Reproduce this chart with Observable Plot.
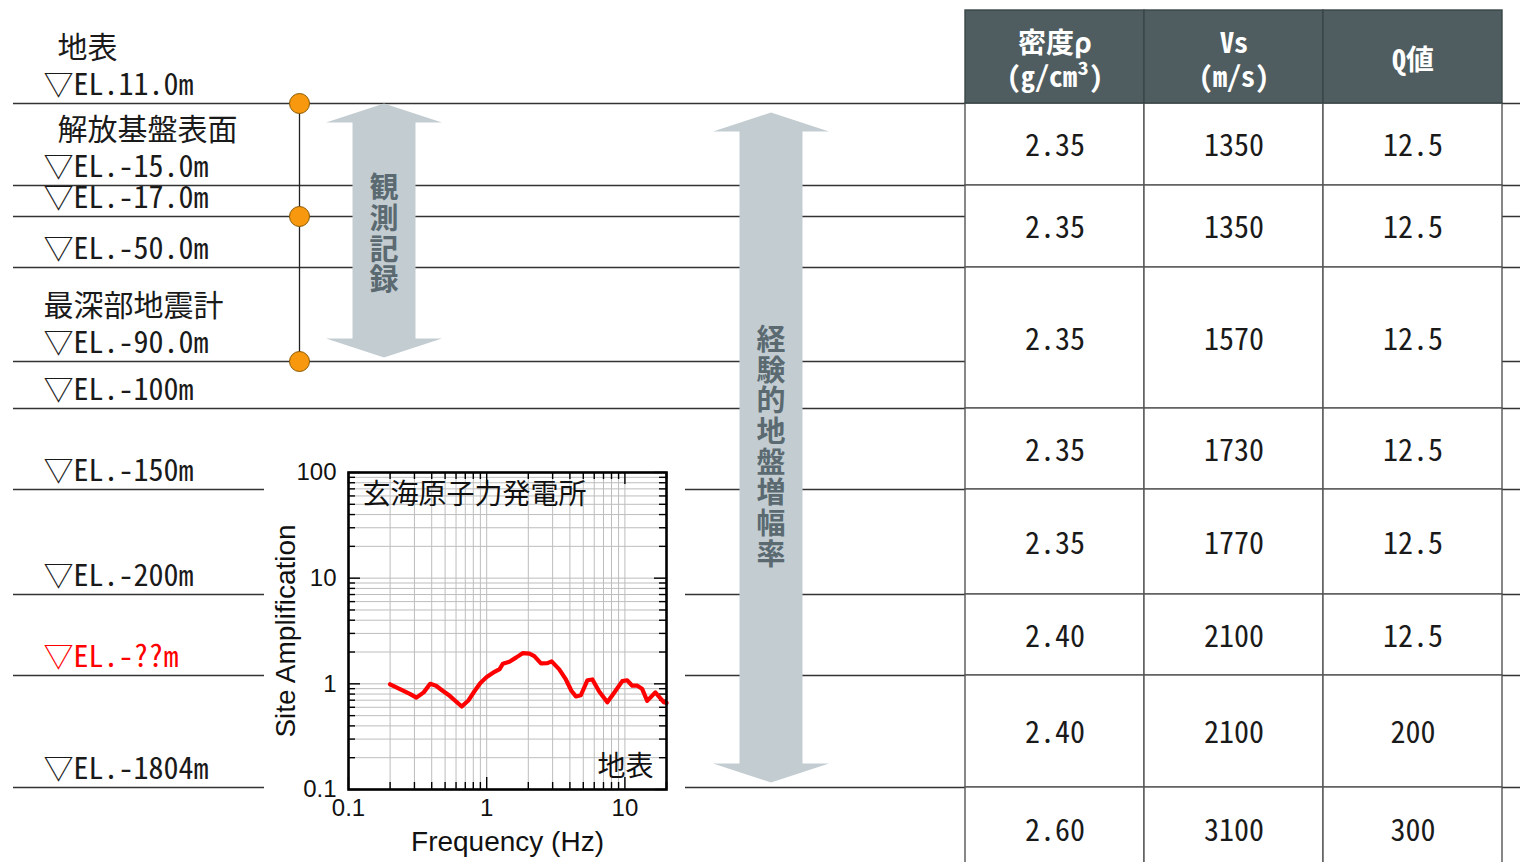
<!DOCTYPE html>
<html><head><meta charset="utf-8">
<script src="https://cdn.jsdelivr.net/npm/d3@7"></script>
<script src="https://cdn.jsdelivr.net/npm/@observablehq/plot@0.6"></script>
<style>
html,body{margin:0;padding:0;background:#fff;}
#wrap{position:relative;width:1520px;height:862px;overflow:hidden;background:#fff;}
#main{position:absolute;left:0;top:0;}
#inset{position:absolute;left:264px;top:455px;}
#main text{font-feature-settings:"hwid" 1;}
</style></head>
<body><div id="wrap"><div id="main"></div><div id="inset"></div></div>
<script>
// ---------------- DATA ----------------
const boundaryLabels = ["▽EL.11.0m","▽EL.-15.0m","▽EL.-17.0m","▽EL.-50.0m","▽EL.-90.0m","▽EL.-100m","▽EL.-150m","▽EL.-200m","▽EL.-??m","▽EL.-1804m"];
const siteNames = ["地表","解放基盤表面","最深部地震計"];
const siteNameBoundary = [0, 1, 4];
const seismometerBoundary = [0, 2, 4];

const tableHeaders = ["密度ρ\n(g/cm³)", "Vs\n(m/s)", "Q値"];
const layerTop    = [0, 1, 3, 5, 6, 7, 8, 9];
const layerBottom = [1, 3, 5, 6, 7, 8, 9, 10];
const density = [2.35, 2.35, 2.35, 2.35, 2.35, 2.40, 2.40, 2.60];
const vs      = [1350, 1350, 1570, 1730, 1770, 2100, 2100, 3100];
const qValue  = [12.5, 12.5, 12.5, 12.5, 12.5, 12.5, 200, 300];

const arrowLabels = ["観測記録", "経験的地盤増幅率"];
const arrowFrom = [0, 0];
const arrowTo   = [4, 9];

const insetTitle = "玄海原子力発電所";
const insetSite = "地表";
const freq = [0.20,0.24,0.28,0.31,0.35,0.39,0.43,0.48,0.54,0.60,0.66,0.74,0.82,0.90,1.00,1.14,1.24,1.31,1.46,1.64,1.82,2.04,2.21,2.47,2.75,2.95,3.35,3.74,4.10,4.42,4.80,5.35,5.82,6.50,7.46,8.34,9.57,10.4,11.3,12.3,13.3,14.5,16.6,19.1,20.0];
const amp  = [0.99,0.88,0.80,0.74,0.83,1.00,0.96,0.86,0.77,0.68,0.61,0.70,0.86,1.02,1.16,1.30,1.38,1.55,1.62,1.78,1.95,1.93,1.83,1.56,1.57,1.63,1.37,1.10,0.86,0.76,0.78,1.08,1.10,0.85,0.67,0.82,1.06,1.08,0.96,0.96,0.90,0.69,0.83,0.67,0.66];
const xTickLabels = [0.1, 1, 10];
const yTickLabels = [0.1, 1, 10, 100];

// ---------------- LAYOUT (scales) ----------------
// x: column anchor index -> pixels ; y: boundary index -> pixels (schematic, piecewise)
const X = d3.scaleLinear().domain([0,1,2,3,4,5,6,7,8,9]).range([13,43,299,383.5,770.5,965,1144,1323,1502,1520]);
const Y = d3.scaleLinear().domain([-1,0,1,2,3,4,5,6,7,8,9,10]).range([10,103,185,216,267,361,408,489,594,675,787,871]);
const yMid = (a, b) => Y.invert((Y(a) + Y(b)) / 2);

function arrowShape(col, from, to, tipTop, tipBottom) {
  const cx = X(col), t = Y(from) + tipTop, b = Y(to) - tipBottom;
  const hw = 58, sw = 31.5, hh = 19;
  const pts = [[0,t],[hw,t+hh],[sw,t+hh],[sw,b-hh],[hw,b-hh],[0,b],[-hw,b-hh],[-sw,b-hh],[-sw,t+hh],[-hw,t+hh]];
  return pts.map(([dx, py]) => ({x: X.invert(cx + dx), y: Y.invert(py)}));
}

const boundaryIdx = boundaryLabels.map((d, i) => i);
const cells = [];
const fmtD = d3.format(".2f");
layerTop.forEach((t, i) => {
  const vals = [fmtD(density[i]), String(vs[i]), qValue[i] < 100 ? qValue[i].toFixed(1) : String(qValue[i])];
  vals.forEach((v, j) => cells.push({x1: 5 + j, x2: 6 + j, y1: t, y2: layerBottom[i], text: v}));
});
const headerCells = tableHeaders.map((h, j) => ({x1: 5 + j, x2: 6 + j, y1: -1, y2: 0, text: h}));
const arrows = arrowLabels.map((l, i) => ({label: l, from: arrowFrom[i], to: arrowTo[i], col: i === 0 ? 3 : 4}));
const arrowFill = "#c3cdd1";

const main = Plot.plot({
  width: 1520, height: 862,
  marginTop: 0, marginRight: 0, marginBottom: 0, marginLeft: 0,
  x: {type: "linear", transform: X, domain: [0, 1520], range: [0, 1520], axis: null},
  y: {type: "linear", transform: Y, domain: [0, 862], range: [0, 862], axis: null},
  style: {fontFamily: "'Noto Sans CJK JP', sans-serif", background: "#fff", color: "#1a1a1a"},
  marks: [
    Plot.ruleY(boundaryIdx, {y: d => d, x1: () => 0, x2: () => 9, stroke: "#333", strokeWidth: 1.4}),
    Plot.rect(cells, {x1: "x1", x2: "x2", y1: "y1", y2: "y2", fill: "#fff", stroke: "#555", strokeWidth: 1.4}),
    Plot.text(cells, {x: d => d.x1 + 0.5, y: d => yMid(d.y1, d.y2), text: "text", fontSize: 30, dy: 2, fill: "#1a1a1a"}),
    Plot.rect(headerCells, {x1: "x1", x2: "x2", y1: "y1", y2: "y2", fill: "#4f5d60", stroke: "#3a4648", strokeWidth: 1.4}),
    Plot.text(headerCells, {x: d => d.x1 + 0.5, y: d => yMid(d.y1, d.y2), text: "text", fontSize: 28, fontWeight: "bold", fill: "#fff", lineHeight: 1.2, dy: 2}),
    Plot.ruleX([seismometerBoundary], {x: () => 2, y1: d => d3.min(d), y2: d => d3.max(d), stroke: "#222", strokeWidth: 1.3}),
    Plot.dot(seismometerBoundary, {x: () => 2, y: d => d, r: 10, fill: "#f7980f", stroke: "#8b5a00", strokeWidth: 1}),
    Plot.line(arrowShape(3, arrowFrom[0], arrowTo[0], 0, 4), {x: "x", y: "y", fill: arrowFill, stroke: "none"}),
    Plot.line(arrowShape(4, arrowFrom[1], arrowTo[1], 9, 5), {x: "x", y: "y", fill: arrowFill, stroke: "none"}),
    Plot.text(arrows, {x: "col", y: d => yMid(d.from, d.to), text: d => [...d.label].join("\n"), fontSize: 29, fontWeight: "bold", lineHeight: 1.06, fill: "#5b6a71", dy: 2}),
    Plot.text(boundaryLabels, {x: () => 1, y: (d, i) => i, text: d => d, textAnchor: "start", dy: -18, fontSize: 30, fill: d => d.includes("??") ? "#ff0000" : "#1a1a1a"}),
    Plot.text(siteNames, {filter: (d, i) => i < 2, x: () => 1, y: (d, i) => siteNameBoundary[i], text: d => d, textAnchor: "start", dx: 14, dy: -55, fontSize: 30, fill: "#1a1a1a"}),
    Plot.text(siteNames, {filter: (d, i) => i >= 2, x: () => 1, y: (d, i) => siteNameBoundary[i], text: d => d, textAnchor: "start", dy: -55, fontSize: 30, fill: "#1a1a1a"})
  ]
});
document.getElementById("main").appendChild(main);

// ---------------- INSET ----------------
const xGrid = [], yGrid = [];
for (const d of [0.1, 1, 10]) for (let k = 1; k <= 9; k++) { const v = +(d * k).toPrecision(3); if (v <= 20) xGrid.push(v); }
for (const d of [0.1, 1, 10]) for (let k = 1; k <= 9; k++) yGrid.push(+(d * k).toPrecision(3));
yGrid.push(100);
xGrid.push(20);
const xMinor = xGrid.filter(v => !xTickLabels.includes(v));
const yMinor = yGrid.filter(v => !yTickLabels.includes(v));
const IW = 421, IH = 407, ML = 84, MR = 19, MT = 17, MB = 73;
const FW = IW - ML - MR, FH = IH - MT - MB;
const minorLen = 7, majorLen = 12;
const tickStyle = {stroke: "#000", strokeWidth: 1.4};
const pts = freq.map((f, i) => ({f, a: amp[i]}));

const inset = Plot.plot({
  width: IW, height: IH, marginLeft: ML, marginRight: MR, marginTop: MT, marginBottom: MB,
  x: {type: "log", domain: [0.1, 20], axis: null},
  y: {type: "log", domain: [0.1, 100], axis: null},
  style: {fontFamily: "'Liberation Sans', Arial, sans-serif", fontSize: "24px", color: "#111", background: "#fff", overflow: "visible"},
  marks: [
    Plot.ruleX(xGrid, {x: d => d, stroke: "#bdbdbd", strokeWidth: 1}),
    Plot.ruleY(yGrid, {y: d => d, stroke: "#bdbdbd", strokeWidth: 1}),
    Plot.tickY(yMinor, {y: d => d, insetRight: FW - minorLen, ...tickStyle}),
    Plot.tickY(yTickLabels, {y: d => d, insetRight: FW - majorLen, ...tickStyle}),
    Plot.tickY(yMinor, {y: d => d, insetLeft: FW - minorLen, ...tickStyle}),
    Plot.tickY(yTickLabels, {y: d => d, insetLeft: FW - majorLen, ...tickStyle}),
    Plot.tickX(xMinor, {x: d => d, insetBottom: FH - minorLen, ...tickStyle}),
    Plot.tickX(xTickLabels, {x: d => d, insetBottom: FH - majorLen, ...tickStyle}),
    Plot.tickX(xMinor, {x: d => d, insetTop: FH - minorLen, ...tickStyle}),
    Plot.tickX(xTickLabels, {x: d => d, insetTop: FH - majorLen, ...tickStyle}),
    Plot.line(pts, {x: "f", y: "a", stroke: "#ff0000", strokeWidth: 4.2, strokeLinejoin: "round", strokeLinecap: "round"}),
    Plot.frame({stroke: "#000", strokeWidth: 2.6}),
    Plot.axisX({ticks: xTickLabels, tickSize: 0, tickPadding: 9, tickFormat: d => String(d), label: null, fontSize: 24}),
    Plot.axisY({ticks: yTickLabels, tickSize: 0, tickPadding: 12, tickFormat: d => String(d), label: null, fontSize: 24}),
    Plot.text([insetTitle], {frameAnchor: "top-left", textAnchor: "start", lineAnchor: "middle", dx: 14, dy: 23, fontSize: 28, fontFamily: "'Noto Sans CJK JP', sans-serif", fill: "#111"}),
    Plot.text([insetSite], {frameAnchor: "bottom-right", textAnchor: "end", lineAnchor: "middle", dx: -13, dy: -22, fontSize: 28, fontFamily: "'Noto Sans CJK JP', sans-serif", fill: "#111"}),
    Plot.text(["Frequency (Hz)"], {frameAnchor: "bottom", lineAnchor: "middle", dy: 53, fontSize: 28, fill: "#111"}),
    Plot.text(["Site Amplification"], {frameAnchor: "left", textAnchor: "middle", lineAnchor: "middle", rotate: -90, dx: -62, fontSize: 28, fill: "#111"})
  ]
});
document.getElementById("inset").appendChild(inset);
</script>
</body></html>
